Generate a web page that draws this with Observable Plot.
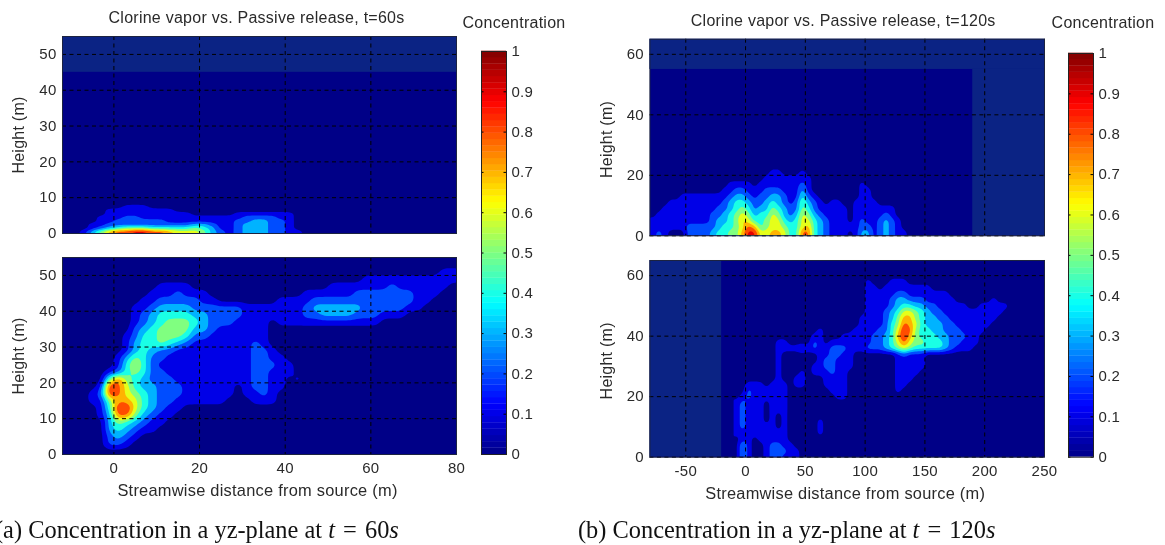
<!DOCTYPE html>
<html><head><meta charset="utf-8">
<script src="https://cdn.jsdelivr.net/npm/d3@7"></script>
<script src="https://cdn.jsdelivr.net/npm/@observablehq/plot@0.6"></script>
<style>
html,body{margin:0;padding:0;background:#fff;overflow:hidden}
#page{position:relative;width:1165px;height:545px;overflow:hidden;filter:blur(0.45px)}
#page svg{position:absolute;overflow:visible}
.cap{position:absolute;font-family:"Liberation Serif",serif;font-size:24.4px;color:#111;white-space:pre;top:516px}
.cap span{padding:0 2px}
</style></head><body><div id="page"></div>
<script>
// Jet colour ramp (concentration -> colour)
const jetStops=[0,0.125,0.375,0.625,0.875,1];
const jetColors=["rgb(0,0,135)","rgb(0,0,255)","rgb(0,255,255)","rgb(255,255,0)","rgb(255,0,0)","rgb(128,0,0)"];
const contourLevels=[0.1,0.2,0.3,0.4,0.5,0.6,0.7,0.8,0.9];
const barTicks=[0,0.1,0.2,0.3,0.4,0.5,0.6,0.7,0.8,0.9,1];
const barSteps=[0,1,2,3,4,5,6,7,8,9,10,11,12,13,14,15,16,17,18,19,20,21,22,23,24,25,26,27,28,29,30,31,32,33,34,35,36,37,38,39,40,41,42,43,44,45,46,47,48,49,50,51,52,53,54,55,56,57,58,59,60,61,62,63];
const xTicks60=[0,20,40,60,80], yTicks60=[0,10,20,30,40,50];
const xTicks120=[-50,0,50,100,150,200,250], yTicks120=[0,20,40,60];

// Each digit = concentration band (0 = below 0.1, 1 = 0.1-0.2 ...), rows from top to bottom.
// t=60s, chlorine vapor: x -12..48 (2 m cells), y 9..0 (1 m cells)
const vapor60=[
"00000",
"00000 00111",
"00000 11111 11100",
"00000 11111 11111 00000 11111 11000",
"00001 11221 11111 11111 12222 11000",
"00001 12222 22111 11111 22332 21000",
"00011 22222 22222 33211 23332 21000",
"00012 34555 44444 54311 23332 21000",
"00135 78899 88766 65321 23332 21100"];
// t=60s, passive release: x -12..80 (2 m cells), y 54..0 (2 m cells)
const passive60=[
"00000",
"00000 00000 00000 00000 00000 00000 00000 00000 00001 1",
"00000 00000 00000 00000 00000 00000 00000 11111 11111 1",
"00000 00000 01111 00000 00000 00000 01111 11121 11111 0",
"00000 00000 11121 11000 00000 00011 11112 22222 21110 0",
"00000 00001 12222 21100 00000 11112 22222 22222 21100 0",
"00000 00011 23333 22222 21111 11123 33333 22222 11000 0",
"00000 00012 34444 33222 21111 11122 33332 22111 00000 0",
"00000 00012 34555 43222 11110 11111 11111 11000 00000 0",
"00000 00023 45555 33211 11110",
"00000 00124 45554 22111 11110",
"00000 00134 45432 11111 11210",
"00000 00134 32211 11111 11221",
"00000 01354 22111 11111 11221 10000",
"00000 01464 21111 11011 11222 11000",
"00000 12454 22111 11111 11221 11000",
"00000 58543 22211 11111 11221 10100",
"00001 98643 32221 11111 01221 10000",
"00012 98654 32221 11111 01121",
"00011 57764 32211 11110 00111",
"00001 49964 32110",
"00001 38853 21100",
"00000 35432 11000",
"00000 34321 10000",
"00000 23210",
"00000 22100",
"00000"];
// t=120s, chlorine vapor: x -80..140 (5 m cells), y 24..0 (2 m cells)
const vapor120=[
"0000",
"0000 0000 0000 0000 0000 1100 0100",
"0000 0000 0000 0000 0001 1111 1110",
"0000 0000 0000 0111 1011 1111 1210 0000 0001",
"0000 0000 0000 1122 1112 2211 1310 0000 0001 1000",
"0000 0111 1111 1233 2122 3321 1421 0000 0001 1000",
"0001 1111 1111 2344 3223 4321 2532 1011 0011 1100",
"0011 1111 1112 2345 4233 5432 2542 1111 1011 1111 1000",
"0111 1111 1122 3456 5344 6532 3653 2111 1011 1112 1000",
"1111 1111 1123 3457 6445 6643 4664 3211 1012 1123 2100",
"1111 1122 2223 4456 8745 6654 4674 3211 1112 2123 2100",
"1210 0022 2234 4557 9966 7764 4884 3211 1013 3123 2110"];
// t=120s, passive release: x -10..225 (5 m cells), y 61..-1 (2 m cells)
const passive120=[
"0000",
"0000 0000 0000 0000 0000 0010 0011 1000",
"0000 0000 0000 0000 0000 0011 0111 1111 1000",
"0000 0000 0000 0000 0000 0011 1112 2111 1111",
"0000 0000 0000 0000 0000 0011 1123 3222 1111 1000 0001",
"0000 0000 0000 0000 0000 0011 1123 4433 2211 1110 0111 110",
"0000 0000 0000 0000 0000 0011 1234 6654 3221 1111 1111 100",
"0000 0000 0000 0000 0000 0111 1235 7754 3322 1111 1111",
"0000 0000 0000 0000 0000 0111 1245 8764 3332 2111 1110",
"0000 0000 0000 0010 0000 1111 2246 9854 4332 2211 1100",
"0000 0000 0000 0110 0011 2112 2347 9754 4433 2221 1000",
"0000 0001 1000 0210 1111 1112 2346 8655 4443 2211 1000",
"0000 0001 1112 1211 2221 1122 2345 6544 4443 2111",
"0000 0001 0000 0011 2211 0000 0001 2111",
"0000 0001 0000 0012 2111 0000 0001 1111",
"0000 0001 0000 0112 2111 0000 0001 1111",
"0000 0001 0001 0111 2110 0000 0001 1110",
"0000 0001 0011 0001 1110 0000 0001 1100",
"0011 1011 1011 0001 1110 0000 0001 1000",
"0021 1111 1000 0000 1110 0000 0001",
"0121 1111 1000 0000 0110",
"1211 1011 1000",
"1211 1011 1000",
"1211 1010 1000",
"1211 1010 1000 0010",
"1211 1110 1000 0010",
"1111 1111 1000 0010",
"0110 1111 1000",
"0310 0122 1100",
"0310 0122 2110",
"0310 0122 1110"];
// lighter "no data" regions of the plots
const noData60Top=[{x1:-12,x2:80,y1:45,y2:55}];
const noData120Top=[{x1:-80,x2:250,y1:55,y2:65},{x1:190,x2:250,y1:0,y2:55}];
const noData120Bottom=[{x1:-80,x2:-20,y1:0,y2:65}];
const noData60Bottom=[];

const BG="rgb(0,0,135)", NODATA="rgb(11,35,132)", INK="#2a2a2a";
const FONT={fontFamily:'"Liberation Sans",Arial,sans-serif',fontSize:"15px",color:INK,background:"none",letterSpacing:"0.25px"};
const colorScale={type:"linear",domain:jetStops,range:jetColors,clamp:true};
const page=document.getElementById("page");
const K=4; // raster refinement used only to round the contour corners

function cells(rows,n){
  const m=rows.length;
  const v=rows.map(r=>[...r.replace(/ /g,"").padEnd(n,"0")].map(d=>(+d+0.5)/10));
  const out=[];
  for(let j=0;j<m*K;j++){
    const fy=Math.max(0,Math.min(m-1,(j+0.5)/K-0.5)),j0=Math.floor(fy),j1=Math.min(m-1,j0+1),ty=fy-j0;
    for(let i=0;i<n*K;i++){
      const fx=Math.max(0,Math.min(n-1,(i+0.5)/K-0.5)),i0=Math.floor(fx),i1=Math.min(n-1,i0+1),tx=fx-i0;
      out.push((v[j0][i0]*(1-tx)+v[j0][i1]*tx)*(1-ty)+(v[j1][i0]*(1-tx)+v[j1][i1]*tx)*ty);
    }
  }
  return out;
}
function place(svg,left,top){svg.style.left=left+"px";svg.style.top=top+"px";page.appendChild(svg);}

function panel(o){
  const marks=[
    Plot.frame({fill:BG,stroke:null}),
    Plot.rect(o.noData,{x1:"x1",x2:"x2",y1:"y1",y2:"y2",fill:NODATA}),
    Plot.contour(cells(o.rows,o.n),{value:Plot.identity,fill:"value",thresholds:contourLevels,width:o.n*K,height:o.rows.length*K,
      x1:o.gx[0],x2:o.gx[1],y1:o.gy[0],y2:o.gy[1],clip:true,blur:1}),
    Plot.gridX(o.xTicks,{stroke:"#000",strokeOpacity:1,strokeDasharray:"4,3.5"}),
    Plot.gridY(o.yTicks,{stroke:"#000",strokeOpacity:1,strokeDasharray:"4,3.5"}),
    Plot.frame({stroke:"#1c2340",strokeWidth:1}),
    Plot.axisY(o.yTicks,{tickSize:0,tickPadding:6,label:null}),
    Plot.text(["Height (m)"],{frameAnchor:"left",textAnchor:"middle",rotate:-90,dx:-o.labelOffsetY,dy:o.labelDy||0,fontSize:16})
  ];
  if(o.xLabel){
    marks.push(Plot.axisX(o.xTicks,{tickSize:0,tickPadding:8,label:null,tickFormat:d=>String(d)}));
    marks.push(Plot.text([o.xLabel],{frameAnchor:"bottom",dy:o.xLabelDy,dx:-2,fontSize:16.4}));
  } else marks.push(Plot.axisX({ticks:[],label:null,tickSize:0}));
  if(o.title) marks.push(Plot.text([o.title],{frameAnchor:"top",dy:o.titleDy,dx:o.titleDx,fontSize:16}));
  const svg=Plot.plot({width:o.right+20-o.ox,height:o.bottom+o.mb-o.oy,
    marginLeft:o.left-o.ox,marginRight:20,marginTop:o.top-o.oy,marginBottom:o.mb,
    x:{domain:o.xDomain,label:null},y:{domain:o.yDomain,label:null},color:colorScale,style:FONT,marks});
  place(svg,o.ox,o.oy);
}

function colorBar(left,top,bottom,ox,tx,ty){
  const n=barSteps.length;
  const svg=Plot.plot({width:120,height:bottom+14,marginLeft:left-ox,marginRight:120-(left-ox)-25,marginTop:top,marginBottom:14,
    x:{domain:[0,1],axis:null},y:{domain:[0,1],label:null},color:colorScale,style:FONT,
    marks:[
      Plot.rect(barSteps,{x1:0,x2:1,y1:d=>d/n,y2:d=>(d+1.05)/n,fill:d=>(d+0.5)/n}),
      Plot.ruleY(barTicks,{x1:0,x2:0.1,stroke:"#000"}),
      Plot.ruleY(barTicks,{x1:0.9,x2:1,stroke:"#000"}),
      Plot.frame({stroke:"#222"}),
      Plot.axisY(barTicks,{anchor:"right",tickSize:0,tickPadding:5,tickFormat:d=>String(d),label:null}),
      Plot.text(["Concentration"],{frameAnchor:"top",dy:ty,dx:tx,fontSize:16})
    ]});
  place(svg,ox,0);
}

panel({rows:vapor60,n:30,gx:[-12,48],gy:[9,0],noData:noData60Top,xTicks:xTicks60,yTicks:yTicks60,
  xDomain:[-12,80],yDomain:[0,55],left:62,right:456,top:36,bottom:233,ox:0,oy:0,mb:6,labelOffsetY:44,
  title:"Clorine vapor vs. Passive release, t=60s",titleDy:-25,titleDx:-3});
panel({rows:passive60,n:46,gx:[-12,80],gy:[54,0],noData:noData60Bottom,xTicks:xTicks60,yTicks:yTicks60,
  xDomain:[-12,80],yDomain:[0,55],left:62,right:456,top:257,bottom:454,ox:0,oy:245,mb:48,labelOffsetY:44,
  xLabel:"Streamwise distance from source (m)",xLabelDy:41});
colorBar(481,51,454,470,20,-35);

panel({rows:vapor120,n:44,gx:[-80,140],gy:[24,0],noData:noData120Top,xTicks:xTicks120,yTicks:yTicks120,
  xDomain:[-80,250],yDomain:[0,65],left:649.4,right:1044,top:38.7,bottom:235.3,ox:590,oy:0,mb:6,labelOffsetY:43,labelDy:2,
  title:"Clorine vapor vs. Passive release, t=120s",titleDy:-25,titleDx:-4});
panel({rows:passive120,n:47,gx:[-10,225],gy:[61,-1],noData:noData120Bottom,xTicks:xTicks120,yTicks:yTicks120,
  xDomain:[-80,250],yDomain:[0,65],left:649.4,right:1044,top:260,bottom:456.7,ox:590,oy:248,mb:48,labelOffsetY:43,labelDy:2,
  xLabel:"Streamwise distance from source (m)",xLabelDy:42});
colorBar(1068,53,456.7,1045,22,-37);

const capA=document.createElement("div");capA.className="cap";capA.style.left="-5px";
capA.innerHTML="(a) Concentration in a yz-plane at <i>t</i> <span>=</span> 60<i>s</i>";page.appendChild(capA);
const capB=document.createElement("div");capB.className="cap";capB.style.left="578px";
capB.innerHTML="(b) Concentration in a yz-plane at <i>t</i> <span>=</span> 120<i>s</i>";page.appendChild(capB);
</script></body></html>
